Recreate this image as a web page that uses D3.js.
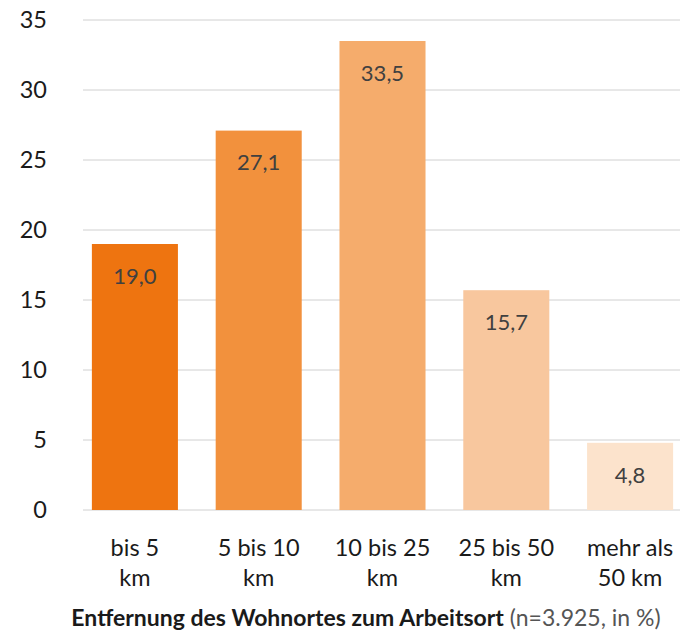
<!DOCTYPE html>
<html>
  <head>
    <meta charset="utf-8">
    <script src="https://cdn.jsdelivr.net/npm/d3@7"></script>
    <style type="text/css">
      body { margin: 0; background: #ffffff; }
      svg text { font-family: "Source Sans Pro", Lato, sans-serif; }
    </style>
  </head>
<body>
  <script type="text/javascript">
    // Data
    var categories = ["bis 5 km", "5 bis 10 km", "10 bis 25 km", "25 bis 50 km", "mehr als 50 km"];
    var categoryLines = [["bis 5", "km"], ["5 bis 10", "km"], ["10 bis 25", "km"], ["25 bis 50", "km"], ["mehr als", "50 km"]];
    var values = [19.0, 27.1, 33.5, 15.7, 4.8];
    var barColors = ["#ee7410", "#f2913d", "#f5ac6c", "#f8c79e", "#fce3cc"];
    var yTicks = [0, 5, 10, 15, 20, 25, 30, 35];

    var width = 689, height = 631;

    var svg = d3.select("body")
      .append("svg")
      .attr("width", width)
      .attr("height", height);

    var x = d3.scaleBand()
      .domain(categories)
      .range([73, 692])
      .paddingInner(0.305)
      .paddingOuter(0.1525);

    var y = d3.scaleLinear()
      .domain([0, 35])
      .range([510, 20]);

    // Gridlines
    svg.append("g")
      .selectAll("line")
      .data(yTicks)
      .enter()
      .append("line")
      .attr("x1", 83)
      .attr("x2", 680)
      .attr("y1", function(d) { return y(d); })
      .attr("y2", function(d) { return y(d); })
      .attr("stroke", "#d0d0d0")
      .attr("stroke-width", 1);

    // Y axis labels
    svg.append("g")
      .selectAll("text")
      .data(yTicks)
      .enter()
      .append("text")
      .attr("x", 47)
      .attr("y", function(d) { return y(d); })
      .attr("dy", "0.35em")
      .attr("text-anchor", "end")
      .style("font-size", "23.5px")
      .style("fill", "#1a1a1a")
      .text(function(d) { return d; });

    // Bars
    svg.append("g")
      .selectAll("rect")
      .data(values)
      .enter()
      .append("rect")
      .attr("x", function(d, i) { return x(categories[i]); })
      .attr("y", function(d) { return y(d); })
      .attr("width", x.bandwidth())
      .attr("height", function(d) { return y(0) - y(d); })
      .attr("fill", function(d, i) { return barColors[i]; });

    // Value labels
    svg.append("g")
      .selectAll("text")
      .data(values)
      .enter()
      .append("text")
      .attr("x", function(d, i) { return x(categories[i]) + x.bandwidth() / 2; })
      .attr("y", function(d) { return y(d) + 32; })
      .attr("dy", "0.35em")
      .attr("text-anchor", "middle")
      .style("font-size", "22px")
      .style("fill", "#404040")
      .text(function(d) { return d3.format(".1f")(d).replace(".", ","); });

    // Category labels
    var cat = svg.append("g")
      .selectAll("text")
      .data(categoryLines)
      .enter()
      .append("text")
      .attr("text-anchor", "middle")
      .style("font-size", "23.5px")
      .style("fill", "#1a1a1a");
    cat.each(function(lines, i) {
      var cx = x(categories[i]) + x.bandwidth() / 2;
      d3.select(this).selectAll("tspan")
        .data(lines)
        .enter()
        .append("tspan")
        .attr("x", cx)
        .attr("y", function(d, j) { return 548 + j * 30; })
        .attr("dy", "0.35em")
        .text(function(d) { return d; });
    });

    // Axis title
    var title = svg.append("text")
      .attr("x", 366)
      .attr("y", 618)
      .attr("dy", "0.35em")
      .attr("text-anchor", "middle")
      .style("font-size", "23px");
    title.append("tspan")
      .style("font-weight", "bold")
      .style("fill", "#1a1a1a")
      .text("Entfernung des Wohnortes zum Arbeitsort");
    title.append("tspan")
      .style("fill", "#555555")
      .text(" (n=3.925, in %)");
  </script>
</body>
</html>
